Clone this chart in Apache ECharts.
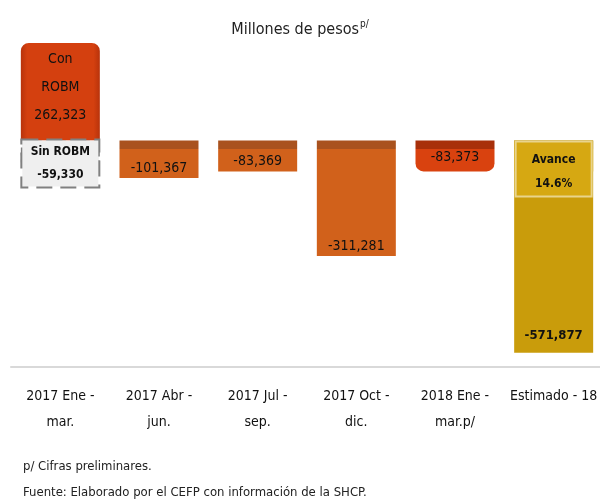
<!DOCTYPE html>
<html lang="es" style="height: 100%">
<head>
  <meta charset="utf-8">
</head>
<body style="height: 100%; margin: 0; background: #fff">
  <div id="container" style="width: 600px; height: 502px"></div>

  <script type="text/javascript" src="https://cdn.jsdelivr.net/npm/echarts@6/dist/echarts.min.js"></script>

  <script type="text/javascript">
    // datos
    var categorias = ['2017 Ene -\nmar.', '2017 Abr -\njun.', '2017 Jul -\nsep.', '2017 Oct -\ndic.', '2018 Ene -\nmar.p/', 'Estimado - 18'];
    var valores = [262323, -101367, -83369, -311281, -83373, -571877];
    var sinRobm = [-59330, null, null, null, null, null];
    var avance = [null, null, null, null, null, -83373];
    var avancePct = '14.6%';

    var FONT = '"Liberation Sans Narrow", "DejaVu Sans Condensed", sans-serif';
    var dom = document.getElementById('container');
    var myChart = echarts.init(dom, null, { renderer: 'canvas' });

    function fmt(v) {
      return v.toLocaleString('en-US');
    }

    // colores por barra: [cuerpo, cara superior]
    var colores = [
      ['#D4400F', '#C3360B'],
      ['#D1611B', '#A9521E'],
      ['#D1611B', '#A9521E'],
      ['#D1611B', '#A9521E'],
      ['#D9420F', '#A8300A'],
      ['#C99C0B', '#8F700A']
    ];

    function relleno(i, zeroY) {
      var c = colores[i];
      if (i === 0) {
        return {
          type: 'linear', x: 0, y: 0, x2: 1, y2: 0,
          colorStops: [
            { offset: 0, color: '#B8330B' }, { offset: 0.08, color: c[0] },
            { offset: 0.92, color: c[0] }, { offset: 1, color: '#B8330B' }
          ]
        };
      }
      if (zeroY == null) return c[0];
      return {
        type: 'linear', x: 0, y: zeroY, x2: 0, y2: zeroY + 9, global: true,
        colorStops: [
          { offset: 0, color: c[1] }, { offset: 0.98, color: c[1] },
          { offset: 1, color: c[0] }
        ]
      };
    }

    function etiqueta(i, v) {
      var base = { show: true, color: '#111', fontFamily: FONT, fontSize: 14 };
      if (i === 0) {
        return Object.assign(base, { position: 'insideTop', distance: 2, lineHeight: 28,
          formatter: 'Con\nROBM\n' + fmt(v) });
      }
      if (i === 4) {
        return Object.assign(base, { position: 'inside', offset: [0, 1], formatter: fmt(v) });
      }
      if (i === 5) {
        return Object.assign(base, { position: 'insideBottom', distance: 11, fontWeight: 'bold',
          fontSize: 13, formatter: fmt(v) });
      }
      return Object.assign(base, { position: 'insideBottom', distance: 3, formatter: fmt(v) });
    }

    function construir(zeroY) {
      var datos = valores.map(function (v, i) {
        return {
          value: v,
          itemStyle: {
            color: relleno(i, zeroY),
            borderRadius: i === 0 ? [8, 8, 0, 0] : (i === 4 ? [0, 0, 8, 8] : 0)
          },
          label: etiqueta(i, v)
        };
      });
      return {
        animation: false,
        textStyle: { fontFamily: FONT },
        title: {
          text: '{a|Millones de pesos}{b|p/}',
          left: 'center',
          top: 14,
          textStyle: {
            fontWeight: 'normal',
            rich: {
              a: { fontFamily: FONT, fontSize: 16, fontWeight: 'normal', color: '#222', lineHeight: 22 },
              b: { fontFamily: FONT, fontSize: 10, fontWeight: 'normal', color: '#222', verticalAlign: 'top', lineHeight: 10, padding: [0, 0, 9, 1] }
            }
          }
        },
        grid: { left: 11, width: 592, top: 29, height: 338, outerBoundsMode: 'none', containLabel: false },
        xAxis: {
          type: 'category',
          data: categorias,
          position: 'bottom',
          axisLine: { onZero: false, lineStyle: { color: '#D9D9D9', width: 2 } },
          axisTick: { show: false },
          axisLabel: { interval: 0, color: '#111', fontFamily: FONT, fontSize: 14, lineHeight: 26, margin: 16, hideOverlap: false }
        },
        yAxis: {
          type: 'value',
          min: -610000,
          max: 300000,
          show: false,
          splitLine: { show: false }
        },
        series: [
          {
            type: 'bar',
            barWidth: 79,
            barGap: '-100%',
            data: datos
          },
          {
            type: 'bar',
            barWidth: 79,
            barGap: '-100%',
            data: sinRobm,
            itemStyle: { color: '#EFEFEF', borderColor: '#808080', borderType: 'dashed', borderWidth: 2 },
            label: {
              show: true,
              position: 'insideTop',
              distance: 0,
              formatter: function (p) { return 'Sin ROBM\n' + fmt(p.value); },
              fontFamily: FONT, fontSize: 12, fontWeight: 'bold', color: '#111',
              lineHeight: 23, width: 76, height: 44, padding: [0, 0, 2, 0],
              backgroundColor: '#EFEFEF', borderColor: '#808080', borderType: 'dashed', borderWidth: 2
            }
          },
          {
            type: 'bar',
            barWidth: 79,
            barGap: '-100%',
            data: avance,
            itemStyle: { color: '#D6A812' },
            label: {
              show: true,
              position: 'insideTop',
              distance: 2,
              formatter: function () { return 'Avance\n' + avancePct; },
              fontFamily: FONT, fontSize: 12, fontWeight: 'bold', color: '#111',
              lineHeight: 24, width: 74, height: 48, padding: [5, 0, 0, 0],
              backgroundColor: '#D6A812', borderColor: '#E9D48C', borderWidth: 2
            }
          }
        ],
        graphic: [
          { type: 'text', left: 23, top: 460, style: { text: 'p/ Cifras preliminares.', fontFamily: FONT, fontSize: 13, fill: '#222' } },
          { type: 'text', left: 23, top: 486, style: { text: 'Fuente: Elaborado por el CEFP con información de la SHCP.', fontFamily: FONT, fontSize: 13, fill: '#222' } }
        ]
      };
    }

    myChart.setOption(construir(null));
    var zeroY = myChart.convertToPixel({ yAxisIndex: 0 }, 0);
    myChart.setOption(construir(zeroY));

    window.addEventListener('resize', myChart.resize);
  </script>
</body>
</html>
